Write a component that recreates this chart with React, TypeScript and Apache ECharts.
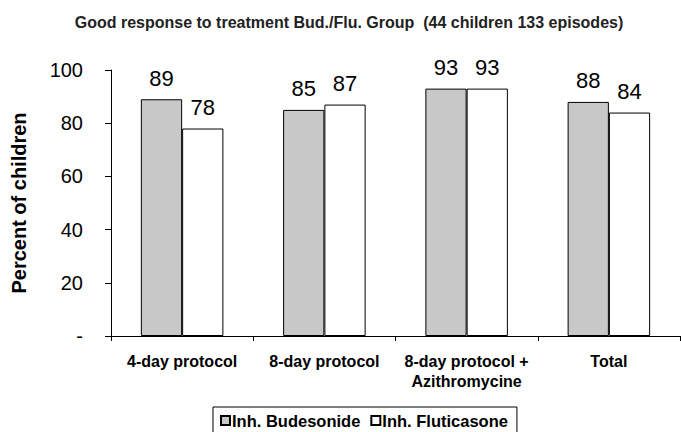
import React, { useEffect, useRef } from "react";
import * as echarts from "echarts";

const categories = ["4-day protocol", "8-day protocol", "8-day protocol +\nAzithromycine", "Total"];
const budesonide = [89, 85, 93, 88];
const fluticasone = [78, 87, 93, 84];
const seriesNames = ["Inh. Budesonide", "Inh. Fluticasone"];
const titleText = "Good response to treatment Bud./Flu. Group  (44 children 133 episodes)";
const yAxisName = "Percent of children";

const FONT = "'Liberation Sans', Arial, sans-serif";

export default function App() {
  const ref = useRef<HTMLDivElement>(null);
  useEffect(() => {
    if (!ref.current) return;
    const chart = echarts.init(ref.current, null, { renderer: "svg" });
    const label = {
      show: true,
      position: "top" as const,
      distance: 10,
      fontSize: 22,
      fontFamily: FONT,
      color: "#000",
    };
    chart.setOption({
      animation: false,
      backgroundColor: "#fff",
      title: {
        text: titleText,
        left: 344,
        textAlign: "center",
        top: 9,
        textStyle: { fontSize: 16, fontWeight: "bold", fontFamily: FONT, color: "#222" },
      },
      legend: {
        data: seriesNames,
        top: 407,
        left: 213,
        itemWidth: 9,
        itemHeight: 9,
        itemGap: 10,
        padding: [5, 9, 5, 7],
        borderColor: "#000",
        borderWidth: 1,
        textStyle: { fontSize: 16.5, fontWeight: "bold", fontFamily: FONT, color: "#000", padding: [0, 0, 0, -3] },
        icon: "rect",
      },
      grid: { left: 111, right: 1, top: 70, bottom: 96, containLabel: false, outerBoundsMode: "none" },
      xAxis: {
        type: "category",
        data: categories,
        axisLine: { lineStyle: { color: "#000", width: 1 } },
        axisTick: { show: true, length: 5, lineStyle: { color: "#000" } },
        axisLabel: {
          fontSize: 16,
          fontWeight: "bold",
          fontFamily: FONT,
          color: "#000",
          margin: 15,
          lineHeight: 20,
          interval: 0,
        },
      },
      yAxis: {
        type: "value",
        min: 0,
        max: 100,
        interval: 20,
        name: yAxisName,
        nameLocation: "middle",
        nameGap: 82,
        nameRotate: 90,
        nameTextStyle: { fontSize: 20, fontWeight: "bold", fontFamily: FONT, color: "#000" },
        axisLine: { show: true, lineStyle: { color: "#000", width: 1 } },
        axisTick: { show: true, length: 6, lineStyle: { color: "#000" } },
        splitLine: { show: false },
        axisLabel: {
          fontSize: 20,
          fontFamily: FONT,
          color: "#000",
          margin: 28,
          formatter: (v: number) => (v === 0 ? "-" : String(v)),
        },
      },
      series: [
        {
          name: seriesNames[0],
          type: "bar",
          data: budesonide,
          barGap: "0%",
          barCategoryGap: "42%",
          itemStyle: { color: "#c8c8c8", borderColor: "#000", borderWidth: 1 },
          label,
        },
        {
          name: seriesNames[1],
          type: "bar",
          data: fluticasone,
          itemStyle: { color: "#ffffff", borderColor: "#000", borderWidth: 1 },
          label,
        },
      ],
    });
    return () => chart.dispose();
  }, []);
  return <div ref={ref} style={{ width: 681, height: 432, position: "absolute", left: 0, top: 0 }} />;
}
